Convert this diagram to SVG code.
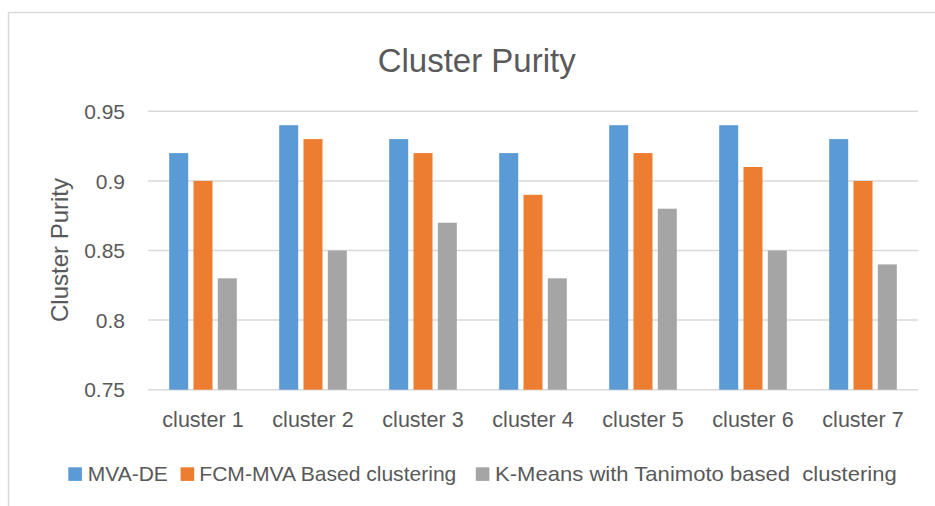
<svg xmlns="http://www.w3.org/2000/svg" width="935" height="506" viewBox="0 0 935 506">
<style>
text{font-family:"Liberation Sans",Arial,sans-serif;fill:#595959}
.grid{stroke:#d9d9d9;stroke-width:1.5}
.tick{font-size:21px;text-anchor:end}
.cat{font-size:21.5px;text-anchor:middle}
.leg{font-size:21px}
.b1{fill:#5b9bd5}
.b2{fill:#ed7d31}
.b3{fill:#a5a5a5}
</style>
<rect width="935" height="506" fill="#fff"/>
<rect x="8.5" y="12.5" width="940" height="510" fill="none" stroke="#d9d9d9" stroke-width="1.5"/>
<text id="title" x="476.7" y="71.5" font-size="33" text-anchor="middle">Cluster Purity</text>
<text id="ytitle" transform="translate(68,250) rotate(-90)" font-size="24" text-anchor="middle">Cluster Purity</text>
<g id="gridlines">
<line class="grid" x1="148" y1="111.3" x2="918" y2="111.3"/>
<line class="grid" x1="148" y1="180.9" x2="918" y2="180.9"/>
<line class="grid" x1="148" y1="250.5" x2="918" y2="250.5"/>
<line class="grid" x1="148" y1="320.1" x2="918" y2="320.1"/>
<line class="grid" x1="148" y1="389.7" x2="918" y2="389.7"/>
</g>
<g id="yticks">
<text class="tick" x="125" y="119">0.95</text>
<text class="tick" x="125" y="188.5">0.9</text>
<text class="tick" x="125" y="258">0.85</text>
<text class="tick" x="125" y="327.6">0.8</text>
<text class="tick" x="125" y="397.2">0.75</text>
</g>
<g id="bars">
<rect class="b1" x="169.2" y="153.1" width="19" height="236.6"/>
<rect class="b2" x="193.5" y="180.9" width="19" height="208.8"/>
<rect class="b3" x="217.8" y="278.3" width="19" height="111.4"/>
<rect class="b1" x="279.2" y="125.2" width="19" height="264.5"/>
<rect class="b2" x="303.5" y="139.1" width="19" height="250.6"/>
<rect class="b3" x="327.8" y="250.5" width="19" height="139.2"/>
<rect class="b1" x="389.2" y="139.1" width="19" height="250.6"/>
<rect class="b2" x="413.5" y="153.1" width="19" height="236.6"/>
<rect class="b3" x="437.8" y="222.7" width="19" height="167"/>
<rect class="b1" x="499.2" y="153.1" width="19" height="236.6"/>
<rect class="b2" x="523.5" y="194.8" width="19" height="194.9"/>
<rect class="b3" x="547.8" y="278.3" width="19" height="111.4"/>
<rect class="b1" x="609.2" y="125.2" width="19" height="264.5"/>
<rect class="b2" x="633.5" y="153.1" width="19" height="236.6"/>
<rect class="b3" x="657.8" y="208.7" width="19" height="181"/>
<rect class="b1" x="719.2" y="125.2" width="19" height="264.5"/>
<rect class="b2" x="743.5" y="167" width="19" height="222.7"/>
<rect class="b3" x="767.8" y="250.5" width="19" height="139.2"/>
<rect class="b1" x="829.2" y="139.1" width="19" height="250.6"/>
<rect class="b2" x="853.5" y="180.9" width="19" height="208.8"/>
<rect class="b3" x="877.8" y="264.4" width="19" height="125.3"/>
</g>
<g id="categories">
<text class="cat" x="203" y="427.3">cluster 1</text>
<text class="cat" x="313" y="427.3">cluster 2</text>
<text class="cat" x="423" y="427.3">cluster 3</text>
<text class="cat" x="533" y="427.3">cluster 4</text>
<text class="cat" x="643" y="427.3">cluster 5</text>
<text class="cat" x="753" y="427.3">cluster 6</text>
<text class="cat" x="863" y="427.3">cluster 7</text>
</g>
<g id="legend">
<rect class="b1" x="68.3" y="467.3" width="13.6" height="13.6"/>
<text class="leg" x="87.7" y="481">MVA-DE</text>
<rect class="b2" x="180.6" y="467.3" width="13.6" height="13.6"/>
<text class="leg" x="199.3" y="481" textLength="257" lengthAdjust="spacingAndGlyphs">FCM-MVA Based clustering</text>
<rect class="b3" x="475.8" y="467.3" width="13.6" height="13.6"/>
<text class="leg" x="495" y="481" xml:space="preserve" textLength="401.7" lengthAdjust="spacingAndGlyphs">K-Means with Tanimoto based  clustering</text>
</g>
</svg>
